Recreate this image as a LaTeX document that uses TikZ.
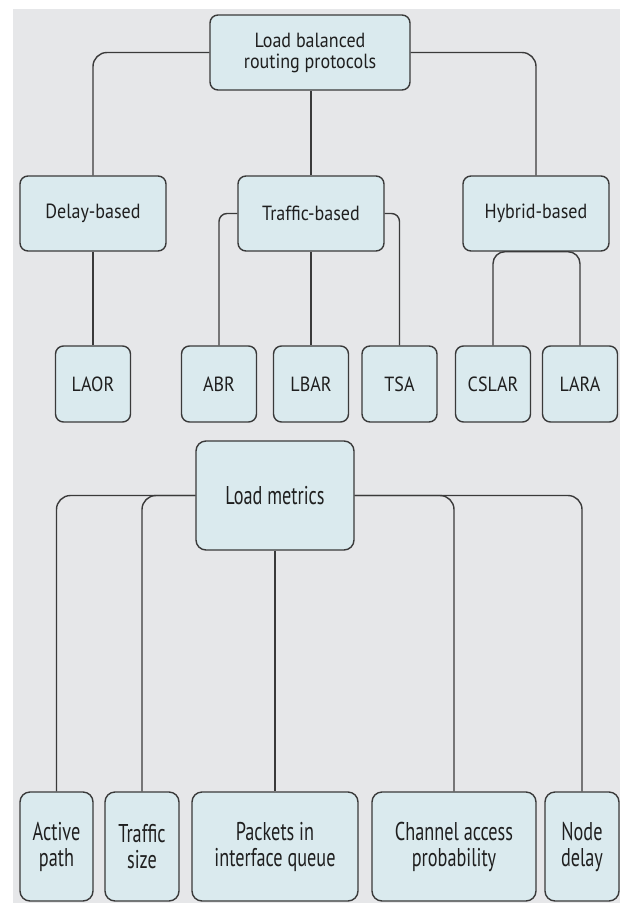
\documentclass[tikz,border=0pt]{standalone}
\usepackage{fontspec}
\newfontfamily\upfont[FakeStretch=0.88]{PT Sans}
\newfontfamily\lowfont[FakeStretch=0.71]{PT Sans}
\usetikzlibrary{positioning}
\definecolor{bggray}{HTML}{E6E7E9}
\definecolor{boxfill}{HTML}{DAEAEE}
\definecolor{boxline}{HTML}{3A3A3A}
\tikzset{lbbox/.style={draw=boxline,fill=boxfill,line width=1.4pt,rounded corners=8pt,
    inner sep=0pt,align=center,text=black!88,font=\upfont\fontsize{20.5}{21}\selectfont},
  leafbox/.style={lbbox,minimum width=75pt,minimum height=76pt},
  metricbox/.style={lbbox,rounded corners=10pt,minimum height=109pt,
    font=\lowfont\fontsize{25.7}{26}\selectfont},
  lblink/.style={draw=boxline,line width=1.4pt,rounded corners=14pt}}

\begin{document}
\begin{tikzpicture}[x=1pt,y=-1pt]
  \useasboundingbox (0,0) rectangle (620,903);
  \fill[bggray] (13,9) rectangle (620,903);

  % routing protocols
  \node [lbbox,minimum width=200pt,minimum height=75pt] (lbrp) at (310,52.5)
        {Load balanced\\routing protocols};
  \node [lbbox,minimum width=146pt,minimum height=75pt] (delay)   at (93,213.5)  {Delay-based};
  \node [lbbox,minimum width=146pt,minimum height=75pt] (traffic) at (311,213.5) {Traffic-based};
  \node [lbbox,minimum width=146pt,minimum height=75pt] (hybrid)  at (536,213.5) {Hybrid-based};

  \node [leafbox] (laor)  at (93,384)    {LAOR};
  \node [leafbox] (abr)   at (219,384)   {ABR};
  \node [leafbox] (lbar)  at (311,384)   {LBAR};
  \node [leafbox] (tsa)   at (399.5,384) {TSA};
  \node [leafbox] (cslar) at (493,384)   {CSLAR};
  \node [leafbox] (lara)  at (580,384)   {LARA};

  \draw [lblink] (lbrp.west) -| (delay.north);
  \draw [lblink] (traffic.north) -- (traffic.north |- lbrp.south);
  \draw [lblink] (lbrp.east) -| (hybrid.north);
  \draw [lblink] (delay.south) -- (laor.north);
  \draw [lblink,rounded corners=8pt] (traffic.west) -| (abr.north);
  \draw [lblink] (traffic.south) -- (lbar.north);
  \draw [lblink,rounded corners=8pt] (traffic.east) -| (tsa.north);
  \draw [lblink,rounded corners=12pt] (cslar.north) |- (hybrid.south) -| (lara.north);

  % load metrics
  \node [metricbox,minimum width=158pt] (metrics) at (275,495.5) {Load metrics};

  \node [metricbox,minimum width=73pt]  (active)  at (56.5,846.5) {Active\\path};
  \node [metricbox,minimum width=74pt]  (tsize)   at (142,846.5)  {Traffic\\size};
  \node [metricbox,minimum width=166pt] (packets) at (275,846.5)  {Packets in\\interface queue};
  \node [metricbox,minimum width=164pt] (channel) at (454,846.5)  {Channel access\\probability};
  \node [metricbox,minimum width=74pt]  (ndelay)  at (582,846.5)  {Node\\delay};

  \draw [lblink] (metrics.west) -| (active.north);
  \draw [lblink] (metrics.west) -| (tsize.north);
  \draw [lblink] (metrics.south) -- (packets.north);
  \draw [lblink] (metrics.east) -| (channel.north);
  \draw [lblink] (metrics.east) -| (ndelay.north);
\end{tikzpicture}
\end{document}
